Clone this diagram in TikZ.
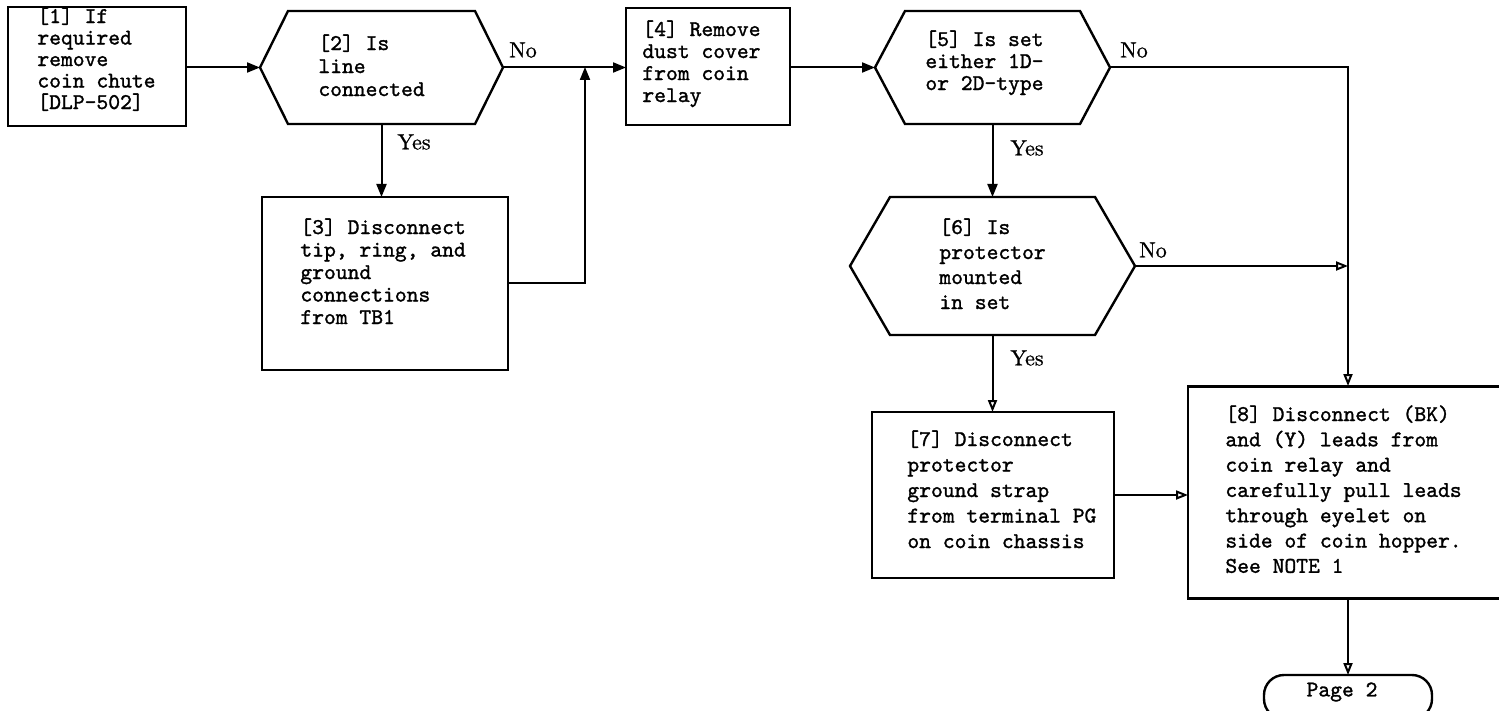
\documentclass[tikz,border=0pt]{standalone}
\usepackage{fontspec}
\newfontfamily\tyf{lmmono10-regular.otf}[FakeBold=1.3]
\newfontfamily\lbf{lmroman10-regular.otf}[FakeBold=1]
\usetikzlibrary{arrows.meta,calc}
\tikzset{
  shp/.style={draw=none,inner sep=0pt,outer sep=0pt},
  box/.style={draw,line width=1.2pt,inner sep=0pt,outer sep=0pt},
  txt/.style={font=\tyf\fontsize{11.25}{#1}\selectfont,align=left,inner sep=0pt,anchor=north west},
  lbl/.style={font=\lbf\fontsize{11}{13}\selectfont,inner sep=0pt},
  conn/.style={line width=1pt},
  fa/.style={conn,-{Triangle[length=6.5pt,width=5pt]}},
  oa/.style={conn,-{Triangle[open,length=6pt,width=4.5pt,line width=1pt]}}
}
\newcommand{\hexa}[2]{\draw[line width=1.2pt,line join=miter] (#1.west) -- ([xshift=#2]#1.north west) -- ([xshift=-#2]#1.north east) -- (#1.east) -- ([xshift=-#2]#1.south east) -- ([xshift=#2]#1.south west) -- cycle;}
\begin{document}
\begin{tikzpicture}[x=0.5pt,y=-0.5pt]
\lineskiplimit=-20pt
\useasboundingbox (0,0) rectangle (1499,711);
\clip (0,0) rectangle (1499,711);
% shapes
\node[box,minimum width=89pt,minimum height=59.5pt] (b1) at (97,66.5) {};
\node[shp,minimum width=121.5pt,minimum height=56.5pt] (d2) at (381.5,67.5) {};
\hexa{d2}{14pt}
\node[box,minimum width=123pt,minimum height=86.5pt] (b3) at (385,283.5) {};
\node[box,minimum width=82pt,minimum height=58.5pt] (b4) at (708,66.5) {};
\node[shp,minimum width=117.5pt,minimum height=56.5pt] (d5) at (992.5,67.5) {};
\hexa{d5}{15pt}
\node[shp,minimum width=142.5pt,minimum height=69pt] (d6) at (992.5,266) {};
\hexa{d6}{20pt}
\node[box,minimum width=121pt,minimum height=83pt] (b7) at (993,495) {};
\node[box,minimum width=166pt,minimum height=106pt] (b8) at (1354,492.5) {};
\coordinate (col) at (1348,386);
\coordinate (colb) at (1348,598.5);
\node[box,minimum width=84pt,minimum height=22pt,rounded corners=10pt] (p2) at (1348,697) {};
% texts
\node[txt=10.75pt] (t1) at (37,7) {[1] If\\required\\remove\\coin chute\\{[}DLP-502]};
\node[txt=11.5pt] (t2) at (318,34) {[2] Is\\line\\connected};
\node[txt=11.25pt] (t3) at (300,218) {[3] Disconnect\\tip, ring, and\\ground\\connections\\from TB1};
\node[txt=11pt] (t4) at (642,20) {[4] Remove\\dust cover\\from coin\\relay};
\node[txt=11pt] (t5) at (925,30) {[5] Is set\\either 1D-\\or 2D-type};
\node[txt=12.5pt] (t6) at (939,218) {[6] Is\\protector\\mounted\\in set};
\node[txt=12.75pt] (t7) at (907,430) {[7] Disconnect\\protector\\ground strap\\from terminal PG\\on coin chassis};
\node[txt=12.65pt] (t8) at (1225,405) {[8] Disconnect (BK)\\and (Y) leads from\\coin relay and\\carefully pull leads\\through eyelet on\\side of coin hopper.\\See NOTE 1};
\node[font=\tyf\fontsize{11.25}{12}\selectfont,inner sep=0pt] (tp) at (1342,692) {Page 2};
% labels
\node[lbl] (no2) at (523,50) {No};
\node[lbl] (yes2) at (414,142) {Yes};
\node[lbl] (no5) at (1134,50) {No};
\node[lbl] (yes5) at (1027,148) {Yes};
\node[lbl] (no6) at (1153,250) {No};
\node[lbl] (yes6) at (1027,358) {Yes};
% connectors
\coordinate (j) at (585,67);
\draw[fa] (b1.east |- d2.west) -- (d2.west);
\draw[fa] (d2.east) -- (d2.east -| b4.west);
\draw[fa] (d2.south) -- (d2.south |- b3.north);
\draw[fa] (b3.east) -| (j);
\draw[fa] (b4.east |- d5.west) -- (d5.west);
\draw[oa] (d5.east) -| (col);
\draw[fa] (d5.south) -- (d6.north);
\draw[oa] (d6.east) -- (d6.east -| col);
\draw[oa] (d6.south) -- (d6.south |- b7.north);
\draw[oa] (b7.east) -- (b7.east -| b8.west);
\draw[oa] (colb) -- (p2.north);
\end{tikzpicture}
\end{document}
